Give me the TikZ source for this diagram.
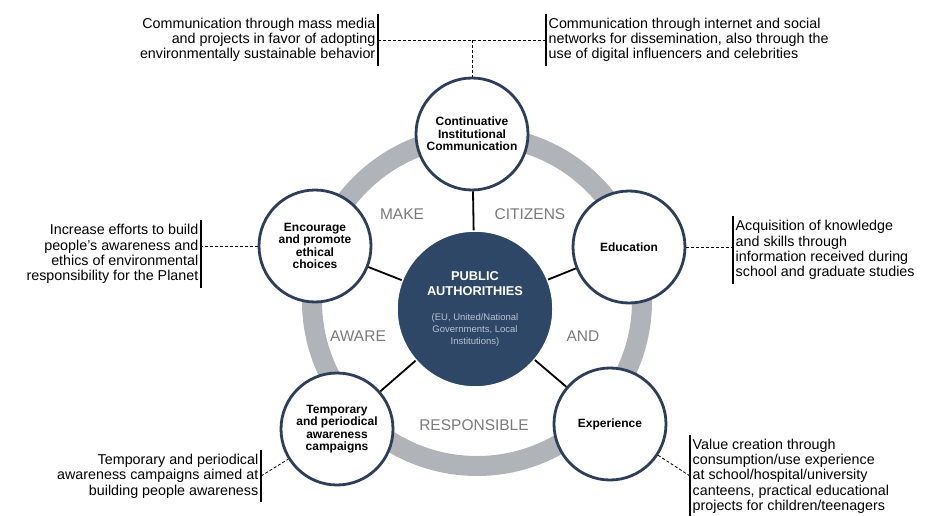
\documentclass[tikz,border=0pt]{standalone}
\usepackage{fontspec}
\setmainfont{Liberation Sans}
\definecolor{navyline}{HTML}{2C3E5A}
\definecolor{hubfill}{HTML}{2E4767}
\definecolor{ringgray}{HTML}{B0B4B9}
\definecolor{wordgray}{HTML}{7A7A7A}
\definecolor{subtext}{HTML}{B8C3D1}
\newcommand\hubbold{\fontsize{12.8}{11.6}\selectfont\bfseries\color{white}}
\newcommand\hubsmall{\fontsize{9.5}{11.6}\selectfont\color{subtext}}

\begin{document}
\begin{tikzpicture}[x=1pt,y=-1pt,
    action/.style={circle, draw=navyline, line width=2.8pt, fill=white, minimum size=112pt, inner sep=0pt, align=center, font=\fontsize{12}{12.5}\selectfont\bfseries},
    hub/.style={circle, draw=white, line width=1.5pt, fill=hubfill, minimum size=156pt, inner sep=0pt, align=center, font=\fontsize{9.5}{11.6}\selectfont},
    note/.style={inner xsep=2.5pt, inner ysep=4pt, font=\fontsize{14.3}{15.3}\selectfont},
    word/.style={text=wordgray, font=\fontsize{15.5}{15.5}\selectfont},
    link/.style={line width=1.8pt, black},
    leader/.style={dashed, line width=0.8pt, dash pattern=on 3pt off 2pt},
    bar/.style={line width=1.4pt, black}]
  \useasboundingbox (0,0) rectangle (934,516);

  % gray ring behind the circles
  \draw[ringgray, line width=20pt] (477,301) circle (165);

  % central node
  \node[hub] (pa) at (475,309) {\hubbold PUBLIC\\[3.4pt]\hubbold AUTHORITHIES\\[13.4pt]
    \hubsmall (EU, United/National\\\hubsmall Governments, Local\\\hubsmall Institutions)};

  % the five actions
  \node[action] (cic) at (472,134) {Continuative\\Institutional\\Communication};
  \node[action] (edu) at (629,247) {Education};
  \node[action] (exp) at (610,424) {Experience};
  \node[action] (tpc) at (337,429) {Temporary\\and periodical\\awareness\\campaigns};
  \node[action] (enc) at (315,246) {Encourage\\and promote\\ethical\\choices};

  \draw[link] (pa) -- (cic);
  \draw[link] (pa) -- (edu);
  \draw[link] (pa) -- (exp);
  \draw[link] (pa) -- (tpc);
  \draw[link] (pa) -- (enc);

  % words around the ring
  \node[word] (make) at (402,214) {MAKE};
  \node[word] (citizens) at (530,214) {CITIZENS};
  \node[word] (and) at (583,336) {AND};
  \node[word] (responsible) at (474,425) {RESPONSIBLE};
  \node[word] (aware) at (358,336) {AWARE};

  % notes
  \node[note, anchor=east, align=right] (cicleft) at (378,40) {Communication through mass media\\and projects in favor of adopting\\environmentally sustainable behavior};
  \node[note, anchor=west, align=left] (cicright) at (546,40) {Communication through internet and social\\networks for dissemination, also through the\\use of digital influencers and celebrities};
  \node[note, anchor=west, align=left] (edunote) at (733,250) {Acquisition of knowledge\\and skills through\\information received during\\school and graduate studies};
  \node[note, anchor=west, align=left] (expnote) at (690,476) {Value creation through\\consumption/use experience\\at school/hospital/university\\canteens, practical educational\\projects for children/teenagers};
  \node[note, anchor=east, align=right] (tpcnote) at (261,476) {Temporary and periodical\\awareness campaigns aimed at\\building people awareness};
  \node[note, anchor=east, align=right] (encnote) at (201,254) {Increase efforts to build\\people's awareness and\\ethics of environmental\\responsibility for the Planet};

  \draw[bar] (cicleft.north east) -- (cicleft.south east);
  \draw[bar] (cicright.north west) -- (cicright.south west);
  \draw[bar] (edunote.north west) -- (edunote.south west);
  \draw[bar] (expnote.north west) -- (expnote.south west);
  \draw[bar] (tpcnote.north east) -- (tpcnote.south east);
  \draw[bar] (encnote.north east) -- (encnote.south east);

  % dashed leaders
  \coordinate (cicjoin) at (cic.north |- cicleft.east);
  \draw[leader] (cicleft.east) -- (cicright.west);
  \draw[leader] (cicjoin) -- (cic.north);
  \draw[leader] (edu.east) -- (edu.east -| edunote.west);
  \draw[leader] (expnote.west) -- (exp);
  \draw[leader] (tpcnote.east) -- (tpc);
  \draw[leader] (enc.west) -- (enc.west -| encnote.east);
\end{tikzpicture}
\end{document}
